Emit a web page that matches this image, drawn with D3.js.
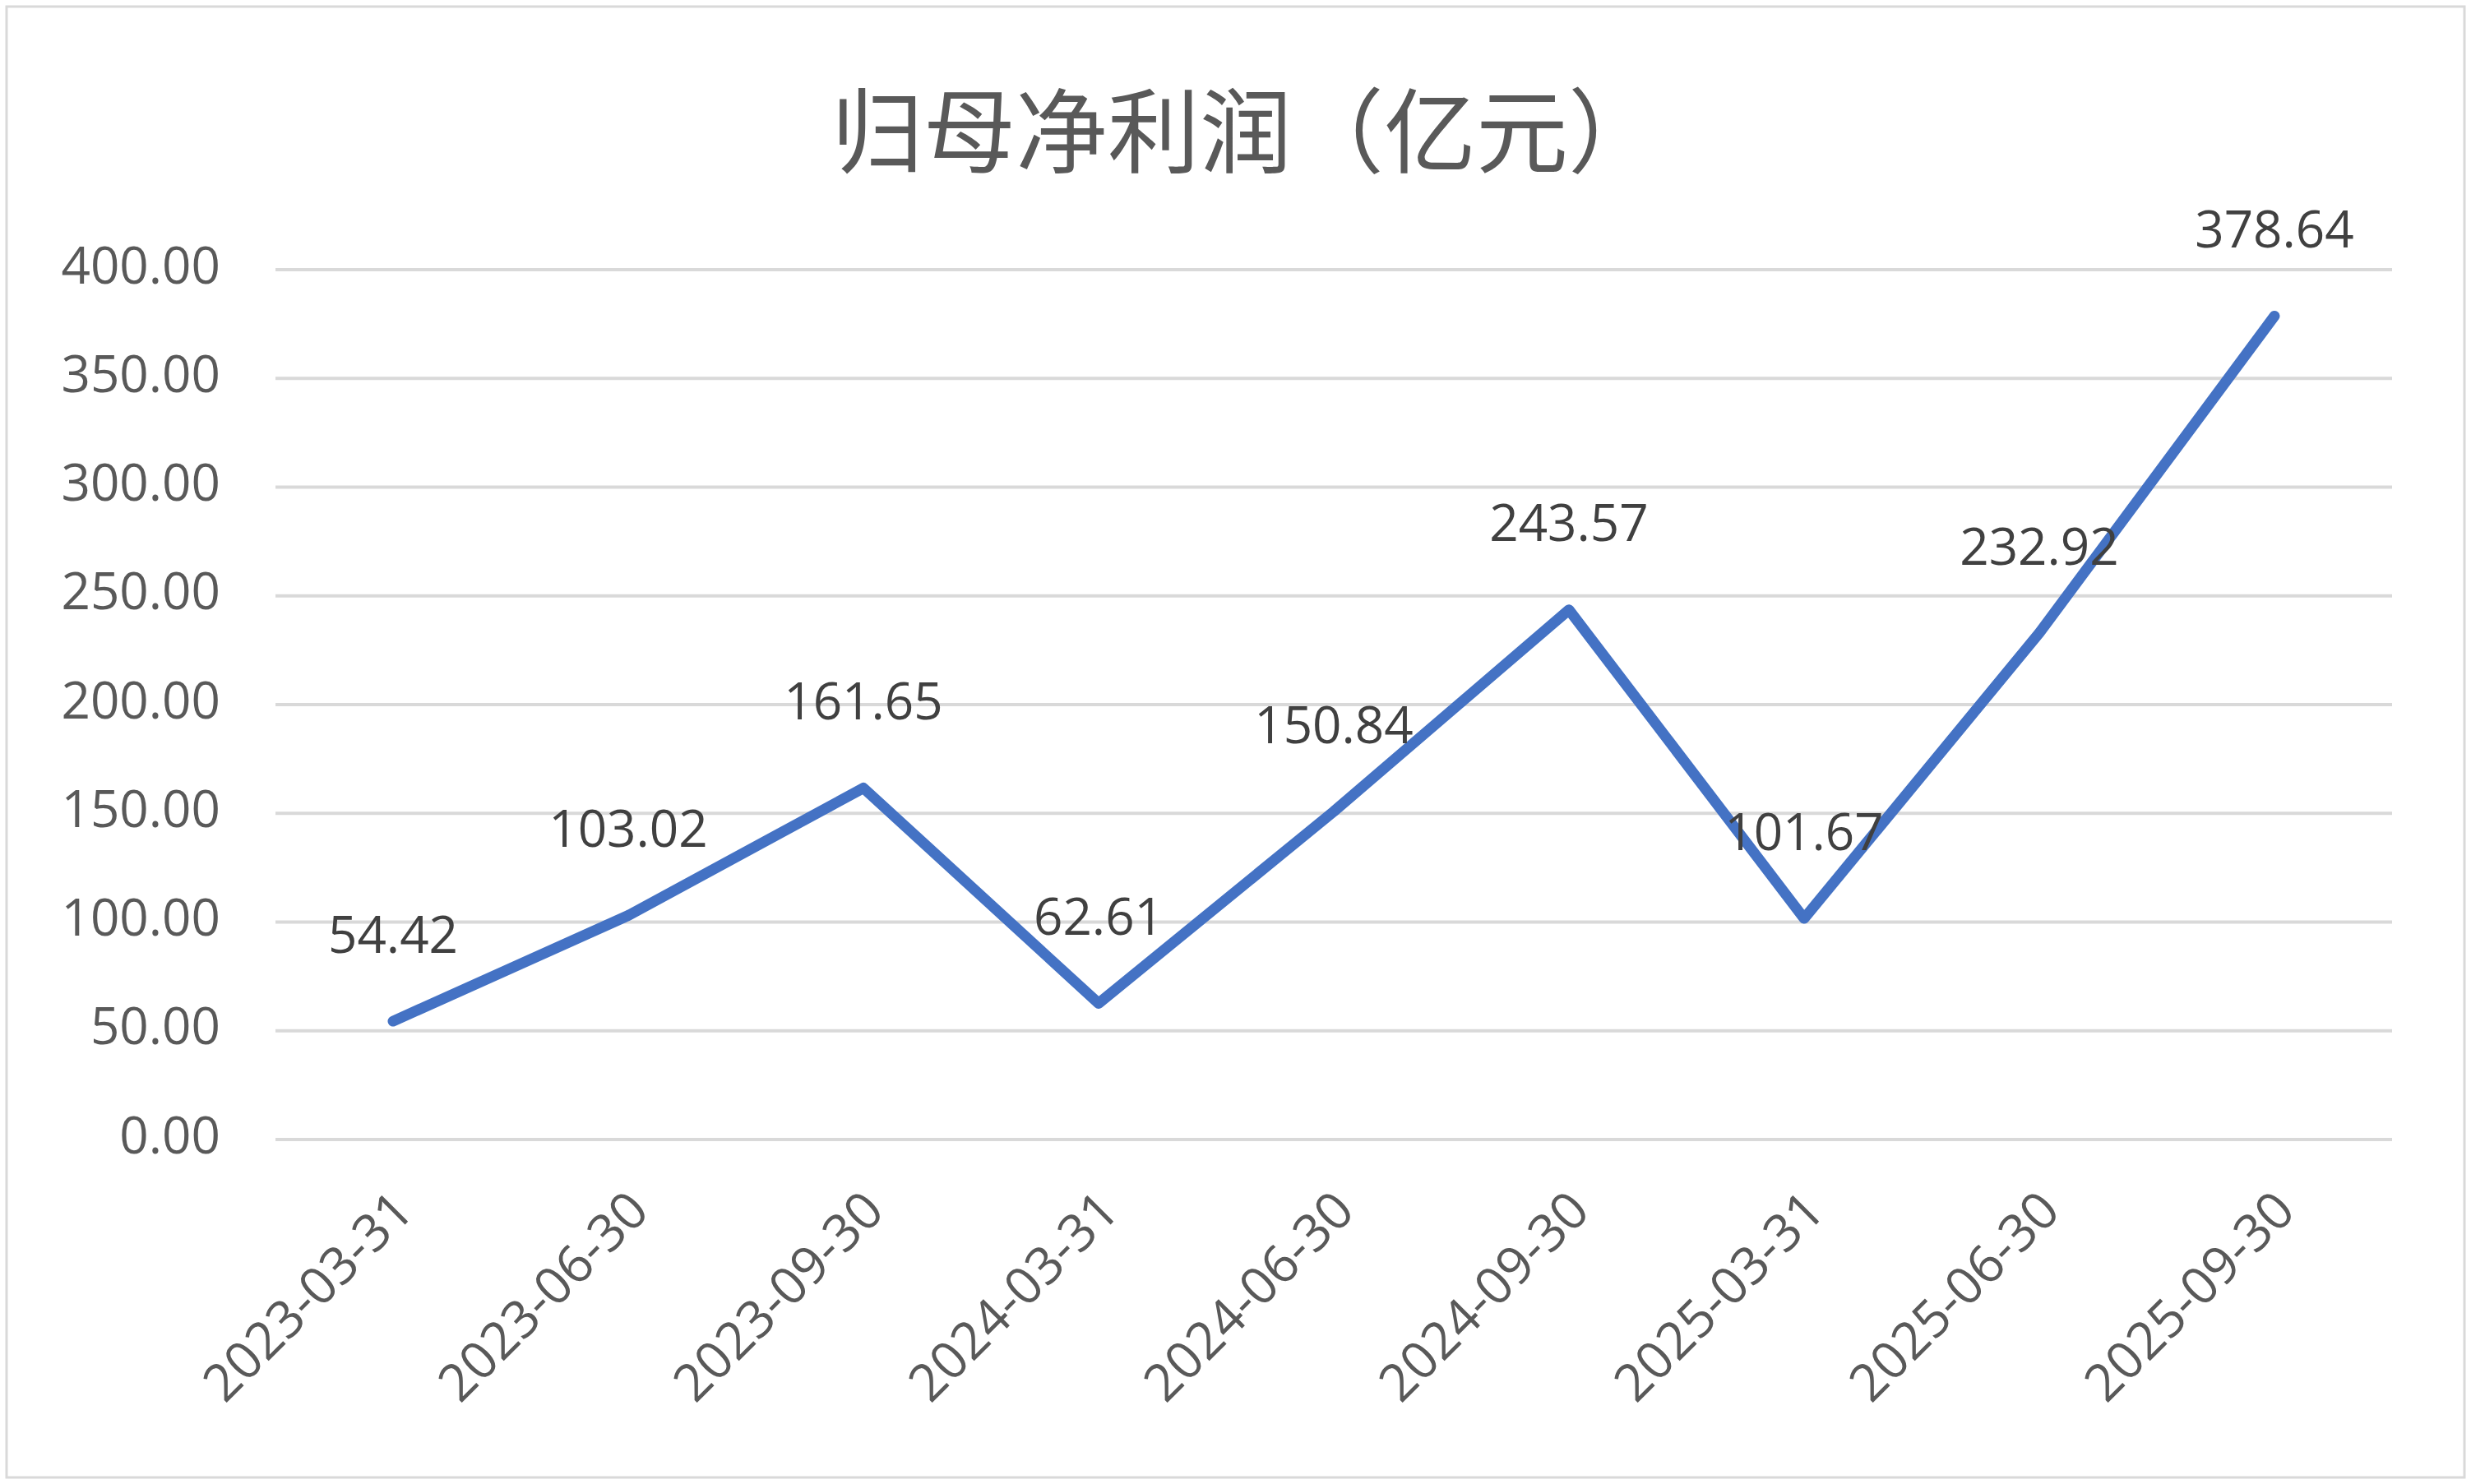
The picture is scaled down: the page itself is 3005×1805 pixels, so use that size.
<!DOCTYPE html>
<html><head><meta charset="utf-8">
<script src="https://cdn.jsdelivr.net/npm/d3@7"></script>
<style>body{margin:0;background:#fff}</style></head>
<body><svg id="c" width="3005" height="1805"></svg>
<script>
const categories=["2023-03-31","2023-06-30","2023-09-30","2024-03-31","2024-06-30","2024-09-30","2025-03-31","2025-06-30","2025-09-30"];
const values=[54.42,103.02,161.65,62.61,150.84,243.57,101.67,232.92,378.64];
const yTicks=[0,50,100,150,200,250,300,350,400];
const title="归母净利润（亿元）";
const font="'Noto Sans CJK SC','Open Sans',sans-serif";
const svg=d3.select("#c");
svg.append("rect").attr("x",8).attr("y",8).attr("width",2989).attr("height",1789).attr("fill","#fff").attr("stroke","#d9d9d9").attr("stroke-width",3);
svg.append("text").attr("x",1515).attr("y",172).attr("text-anchor","middle").attr("dominant-baseline","middle")
 .attr("font-family",font).attr("font-size",112).attr("fill","#595959").text(title);
const x=d3.scalePoint().domain(categories).range([335+143,2909-143]);
const y=d3.scaleLinear().domain([0,400]).range([1386,328]);
const g=svg.append("g");
const nf="'Open Sans',sans-serif";
g.selectAll("line.grid").data(yTicks).join("line").attr("x1",335).attr("x2",2909)
 .attr("y1",d=>y(d)).attr("y2",d=>y(d)).attr("stroke","#d9d9d9").attr("stroke-width",4);
g.selectAll("text.yl").data(yTicks).join("text").attr("x",268).attr("y",d=>y(d)).attr("text-anchor","end")
 .attr("dominant-baseline","middle").attr("font-family",nf).attr("font-size",62).attr("fill","#595959").text(d=>d.toFixed(2));
g.selectAll("text.xl").data(categories).join("text")
 .attr("transform",d=>`translate(${x(d)+16},${1464}) rotate(-45)`).attr("text-anchor","end").attr("dominant-baseline","middle")
 .attr("font-family",nf).attr("font-size",63).attr("fill","#595959").text(d=>d);
const line=d3.line().x((d,i)=>x(categories[i])).y(d=>y(d));
g.append("path").datum(values).attr("d",line).attr("fill","none").attr("stroke","#4472C4").attr("stroke-width",13).attr("stroke-linejoin","round").attr("stroke-linecap","round");
g.selectAll("text.dl").data(values).join("text").attr("x",(d,i)=>x(categories[i])).attr("y",d=>y(d)-100)
 .attr("text-anchor","middle").attr("dominant-baseline","middle").attr("font-family",nf).attr("font-size",62).attr("fill","#404040").text(d=>d.toFixed(2));
</script></body></html>
